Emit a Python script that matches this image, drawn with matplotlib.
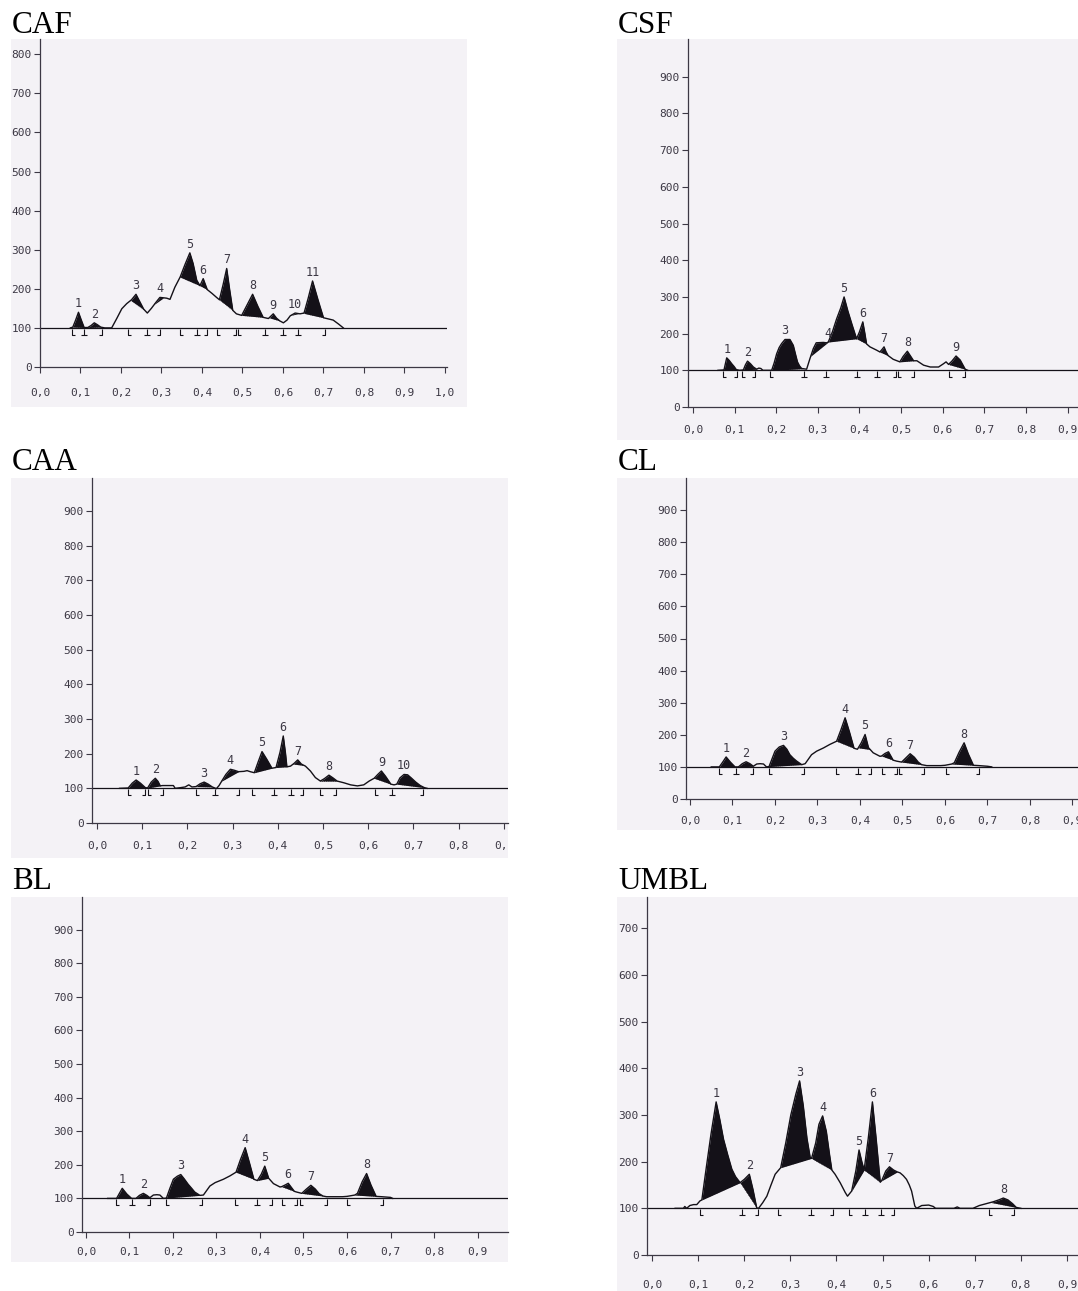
import numpy as np
import matplotlib
matplotlib.use("Agg")
import matplotlib.pyplot as plt
from matplotlib.patches import Rectangle
from matplotlib.path import Path
from matplotlib.markers import MarkerStyle

W, H = 1078, 1291

# ---- CAF ----
caf_x = [0.075, 0.081, 0.088, 0.095, 0.102, 0.109, 0.118, 0.126, 0.134, 0.142, 0.150, 0.160, 0.177,
         0.190, 0.202, 0.214, 0.226, 0.237, 0.246, 0.256, 0.265, 0.275, 0.286, 0.296, 0.305, 0.313,
         0.321, 0.333, 0.346, 0.358, 0.370, 0.378, 0.387, 0.395, 0.403, 0.413, 0.425, 0.436, 0.443,
         0.452, 0.461, 0.468, 0.476, 0.485, 0.498, 0.512, 0.525, 0.538, 0.551, 0.564, 0.570, 0.576,
         0.584, 0.592, 0.601, 0.610, 0.618, 0.630, 0.642, 0.652, 0.662, 0.673, 0.687, 0.700, 0.708,
         0.724, 0.737, 0.749]
caf_y = [100, 102, 120, 140, 120, 101, 101, 106, 113, 108, 102, 100, 100,
         125, 149, 162, 172, 186, 168, 148, 138, 150, 165, 178, 177, 176,
         173, 204, 230, 262, 292, 265, 222, 208, 226, 198, 188, 178, 172,
         210, 252, 200, 145, 136, 132, 160, 186, 155, 127, 124, 130, 136,
         125, 118, 113, 120, 131, 138, 136, 138, 175, 220, 170, 126, 124,
         120, 110, 100]
caf_p0 = [0.081, 0.118, 0.224, 0.283, 0.346, 0.395, 0.443, 0.498, 0.566, 0.620, 0.650]
caf_p1 = [0.109, 0.150, 0.258, 0.305, 0.395, 0.413, 0.476, 0.551, 0.592, 0.638, 0.700]
caf_mx = [0.078, 0.109, 0.152, 0.218, 0.265, 0.296, 0.346, 0.387, 0.412, 0.436, 0.485, 0.490,
          0.555, 0.601, 0.638, 0.704]
caf_mt = "LIJLIJLIJLJLIIIJ"

# ---- CSF ----
csf_x = [0.060, 0.0745, 0.081, 0.087, 0.093, 0.099, 0.104, 0.112, 0.121, 0.126, 0.131, 0.138, 0.145,
         0.153, 0.158, 0.163, 0.168, 0.189, 0.195, 0.201, 0.207, 0.213, 0.221, 0.233, 0.241, 0.246,
         0.251, 0.256, 0.261, 0.273, 0.281, 0.289, 0.296, 0.313, 0.321, 0.325, 0.335, 0.345, 0.355,
         0.363, 0.372, 0.382, 0.393, 0.400, 0.408, 0.413, 0.417, 0.425, 0.441, 0.449, 0.455, 0.459,
         0.464, 0.469, 0.481, 0.497, 0.505, 0.515, 0.522, 0.530, 0.538, 0.554, 0.570, 0.590, 0.602,
         0.608, 0.614, 0.622, 0.632, 0.642, 0.654, 0.660]
csf_y = [100, 101, 134, 127, 118, 110, 102, 100, 101, 115, 125, 118, 109,
         103, 106, 105, 100, 100, 120, 145, 162, 173, 184, 184, 168, 145,
         123, 112, 105, 103, 132, 159, 175, 176, 175, 177, 205, 240, 270,
         300, 262, 225, 186, 205, 232, 200, 172, 164, 155, 150, 158, 164,
         150, 140, 130, 123, 138, 152, 140, 126, 126, 114, 109, 109, 118,
         123, 116, 125, 139, 128, 103, 100]
csf_p0 = [0.0745, 0.121, 0.189, 0.283, 0.325, 0.393, 0.449, 0.497, 0.614]
csf_p1 = [0.104, 0.153, 0.265, 0.325, 0.393, 0.417, 0.469, 0.530, 0.654]
csf_mx = [0.073, 0.106, 0.118, 0.149, 0.185, 0.266, 0.320, 0.394, 0.443, 0.488, 0.493, 0.530,
          0.615, 0.654]
csf_mt = "LJLJLIIIIJLJLJ"

# ---- CAA ----
caa_x = [0.050, 0.069, 0.078, 0.0865, 0.096, 0.107, 0.112, 0.120, 0.129, 0.135, 0.140, 0.145, 0.169,
         0.173, 0.185, 0.195, 0.203, 0.210, 0.219, 0.228, 0.237, 0.246, 0.255, 0.264, 0.270, 0.276,
         0.285, 0.295, 0.304, 0.313, 0.325, 0.332, 0.339, 0.348, 0.357, 0.365, 0.375, 0.387, 0.396,
         0.405, 0.412, 0.417, 0.420, 0.428, 0.436, 0.444, 0.452, 0.461, 0.472, 0.483, 0.494, 0.503,
         0.513, 0.522, 0.531, 0.546, 0.561, 0.576, 0.590, 0.602, 0.613, 0.621, 0.629, 0.638, 0.650,
         0.657, 0.663, 0.670, 0.679, 0.687, 0.695, 0.705, 0.715, 0.724, 0.730]
caa_y = [100, 101, 115, 124, 115, 102, 101, 118, 129, 120, 107, 108, 108,
         100, 102, 104, 110, 104, 105, 113, 118, 112, 104, 99, 108, 121,
         140, 155, 152, 148, 149, 151, 148, 145, 178, 206, 185, 158, 160,
         205, 251, 200, 162, 164, 172, 182, 170, 164, 150, 131, 121, 128,
         138, 130, 121, 116, 110, 107, 110, 121, 129, 140, 150, 135, 112,
         110, 112, 130, 140, 139, 130, 118, 108, 102, 100]
caa_p0 = [0.069, 0.112, 0.219, 0.276, 0.348, 0.396, 0.434, 0.494, 0.613, 0.663]
caa_p1 = [0.107, 0.140, 0.255, 0.313, 0.387, 0.420, 0.458, 0.531, 0.650, 0.724]
caa_mx = [0.069, 0.107, 0.112, 0.147, 0.218, 0.261, 0.315, 0.343, 0.392, 0.428, 0.455, 0.493,
          0.529, 0.615, 0.653, 0.721]
caa_mt = "LJLJLIJLIIJLJLIJ"

# ---- CL ----
cl_x = [0.050, 0.069, 0.077, 0.085, 0.095, 0.106, 0.114, 0.123, 0.132, 0.141, 0.149, 0.157, 0.165,
        0.173, 0.180, 0.186, 0.193, 0.200, 0.210, 0.220, 0.228, 0.235, 0.243, 0.251, 0.263, 0.271,
        0.286, 0.298, 0.314, 0.329, 0.345, 0.355, 0.365, 0.375, 0.386, 0.394, 0.403, 0.412, 0.420,
        0.431, 0.447, 0.451, 0.459, 0.467, 0.473, 0.478, 0.486, 0.498, 0.508, 0.518, 0.528, 0.537,
        0.545, 0.557, 0.590, 0.600, 0.616, 0.622, 0.633, 0.645, 0.655, 0.667, 0.680, 0.700, 0.710]
cl_y = [100, 100, 115, 131, 115, 100, 100, 110, 116, 110, 102, 109, 110,
        109, 100, 101, 125, 149, 162, 167, 155, 138, 127, 118, 107, 110,
        138, 149, 159, 170, 180, 215, 253, 210, 158, 155, 175, 201, 160,
        144, 133, 134, 142, 147, 133, 121, 118, 115, 128, 141, 130, 115,
        107, 104, 104, 105, 109, 113, 145, 175, 140, 105, 104, 102, 100]
cl_p0 = [0.069, 0.114, 0.186, 0.345, 0.396, 0.451, 0.498, 0.616]
cl_p1 = [0.106, 0.149, 0.263, 0.386, 0.424, 0.478, 0.545, 0.667]
cl_mx = [0.068, 0.108, 0.148, 0.186, 0.268, 0.344, 0.395, 0.427, 0.451, 0.486, 0.492, 0.551,
         0.602, 0.681]
cl_mt = "LIJLJLIJLJLJLJ"

# ---- BL ----
bl_x = [0.050, 0.0705, 0.077, 0.0835, 0.094, 0.105, 0.115, 0.123, 0.132, 0.140, 0.147, 0.155, 0.163,
        0.170, 0.178, 0.185, 0.193, 0.201, 0.210, 0.218, 0.226, 0.235, 0.243, 0.250, 0.262, 0.270,
        0.285, 0.297, 0.316, 0.331, 0.345, 0.355, 0.366, 0.376, 0.386, 0.394, 0.403, 0.411, 0.420,
        0.431, 0.446, 0.450, 0.458, 0.465, 0.472, 0.479, 0.484, 0.496, 0.506, 0.517, 0.527, 0.536,
        0.545, 0.553, 0.590, 0.600, 0.618, 0.624, 0.635, 0.645, 0.655, 0.667, 0.680, 0.700, 0.705]
bl_y = [100, 100, 115, 130, 113, 100, 100, 109, 115, 109, 102, 110, 111,
        110, 100, 101, 130, 157, 166, 171, 158, 142, 130, 119, 109, 110,
        137, 147, 157, 167, 178, 215, 251, 205, 157, 153, 172, 196, 160,
        144, 134, 135, 140, 145, 133, 121, 119, 115, 127, 139, 128, 114,
        107, 105, 105, 106, 110, 115, 150, 174, 140, 106, 105, 103, 100]
bl_p0 = [0.0705, 0.115, 0.185, 0.345, 0.394, 0.450, 0.496, 0.618]
bl_p1 = [0.105, 0.147, 0.262, 0.386, 0.420, 0.479, 0.545, 0.667]
bl_mx = [0.069, 0.106, 0.147, 0.185, 0.266, 0.342, 0.394, 0.427, 0.450, 0.486, 0.491, 0.553,
         0.599, 0.682]
bl_mt = "LIJLJLIJLJLJLJ"

# ---- UMBL ----
um_x = [0.050, 0.068, 0.071, 0.075, 0.082, 0.090, 0.097, 0.104, 0.108, 0.118, 0.128, 0.139, 0.147,
        0.155, 0.164, 0.173, 0.181, 0.191, 0.200, 0.211, 0.219, 0.227, 0.231, 0.240, 0.249, 0.258,
        0.267, 0.279, 0.290, 0.301, 0.312, 0.320, 0.328, 0.336, 0.343, 0.346, 0.355, 0.362, 0.370,
        0.378, 0.385, 0.390, 0.397, 0.408, 0.419, 0.424, 0.433, 0.442, 0.449, 0.455, 0.460, 0.469,
        0.478, 0.486, 0.495, 0.498, 0.507, 0.515, 0.524, 0.532, 0.538, 0.545, 0.552, 0.558, 0.563,
        0.570, 0.574, 0.585, 0.600, 0.610, 0.615, 0.655, 0.662, 0.668, 0.696, 0.710, 0.725, 0.740,
        0.752, 0.762, 0.772, 0.782, 0.790, 0.800]
um_y = [100, 100, 104, 100, 106, 108, 108, 116, 118, 190, 260, 328, 290,
        248, 215, 184, 168, 155, 162, 173, 140, 101, 100, 112, 126, 150,
        173, 187, 240, 300, 345, 373, 320, 250, 209, 207, 240, 280, 298,
        265, 215, 182, 173, 155, 134, 126, 137, 180, 225, 200, 182, 250,
        328, 250, 156, 159, 180, 189, 182, 178, 176, 170, 162, 150, 137,
        105, 100, 106, 107, 104, 100, 100, 103, 100, 100, 106, 110, 114,
        118, 122, 118, 110, 102, 100]
um_p0 = [0.108, 0.191, 0.279, 0.346, 0.433, 0.460, 0.498, 0.735]
um_p1 = [0.191, 0.227, 0.346, 0.390, 0.460, 0.495, 0.532, 0.790]
um_mx = [0.103, 0.195, 0.229, 0.274, 0.345, 0.393, 0.428, 0.461, 0.496, 0.524, 0.731, 0.785]
um_mt = "LIJLIJLIIJLJ"

ink = "#141118"
axis_col = "#3c3844"
paper = "#f4f2f6"
mono = "DejaVu Sans Mono"

mark_paths = {
    "L": Path([(0, -0.15), (0, -1), (0.45, -1)], [Path.MOVETO, Path.LINETO, Path.LINETO]),
    "J": Path([(0, -0.15), (0, -1), (-0.45, -1)], [Path.MOVETO, Path.LINETO, Path.LINETO]),
    "I": Path([(0, -0.15), (0, -1), (-0.45, -1), (0.45, -1)],
              [Path.MOVETO, Path.LINETO, Path.MOVETO, Path.LINETO]),
}

fig = plt.figure(figsize=(W / 100, H / 100), dpi=100)
fig.patch.set_facecolor("white")


def draw_panel(title, title_px, gray_px, box_px, xlim, ylim, yticks, xticks, xpad,
               cx, cy, p0, p1, mx, mt):
    gx0, gy0, gx1, gy1 = gray_px
    bg = Rectangle((gx0 / W, 1 - gy1 / H), (gx1 - gx0) / W, (gy1 - gy0) / H,
                   transform=fig.transFigure, facecolor=paper, edgecolor="none", zorder=0)
    fig.add_artist(bg)
    fig.text(title_px[0] / W, 1 - title_px[1] / H, title, fontsize=22.5,
             family="Liberation Serif", ha="left", va="baseline", color="black")

    l, t, r, b = box_px
    ax = fig.add_axes([l / W, 1 - b / H, (r - l) / W, (b - t) / H])
    ax.set_facecolor("none")
    ax.set_xlim(*xlim)
    ax.set_ylim(*ylim)
    for s in ("top", "right"):
        ax.spines[s].set_visible(False)
    for s in ("left", "bottom"):
        ax.spines[s].set_color(axis_col)
        ax.spines[s].set_linewidth(0.9)
    ax.set_yticks(yticks)
    ax.set_yticklabels([str(v) for v in yticks])
    ax.set_xticks(xticks)
    ax.set_xticklabels([f"{v:.1f}".replace(".", ",") for v in xticks])
    ax.tick_params(axis="y", length=4, width=0.8, color=axis_col, pad=2,
                   labelsize=8, labelcolor=axis_col)
    ax.tick_params(axis="x", length=4, width=0.8, color=axis_col, pad=xpad,
                   labelsize=8, labelcolor=axis_col)
    for lab in ax.get_xticklabels() + ax.get_yticklabels():
        lab.set_family(mono)
    for lab in ax.get_xticklabels():
        lab.set_clip_path(bg)

    # baseline
    ax.axhline(100, color=ink, lw=0.9, zorder=2)

    cx = np.asarray(cx, float)
    cy = np.asarray(cy, float)
    ax.plot(cx, cy, color=ink, lw=1.0, zorder=3)

    for n, (a, bnd) in enumerate(zip(p0, p1), start=1):
        xs = np.array([a] + [x for x in cx if a < x < bnd] + [bnd])
        ys = np.interp(xs, cx, cy)
        base = ys[0] + (ys[-1] - ys[0]) * (xs - a) / (bnd - a)
        ax.fill_between(xs, base, ys, where=ys >= base, interpolate=True,
                        color=ink, lw=0, zorder=3)
        ax.plot([xs[0], xs[-1]], [base[0], base[-1]], color=ink, lw=0.5, ls=":", zorder=3)
        k = int(np.argmax(ys))
        ax.annotate(str(n), (xs[k], ys[k]), xytext=(0, 1.5), textcoords="offset points",
                    ha="center", va="bottom", fontsize=8.5, family=mono, color=axis_col)

    for key in "LJI":
        xs = [x for x, t in zip(mx, mt) if t == key]
        if xs:
            ax.plot(xs, [100] * len(xs), ls="none", marker=MarkerStyle(mark_paths[key]),
                    ms=10, mfc="none", mec=ink, mew=0.8, zorder=3, clip_on=False)
    return ax


draw_panel("CAF", (12, 33), (11, 39, 467, 407), (40, 39, 447, 367),
           (0, 1.005), (0, 839), list(range(0, 900, 100)), [i / 10 for i in range(11)], 11,
           caf_x, caf_y, caf_p0, caf_p1, caf_mx, caf_mt)
draw_panel("CSF", (618, 33), (617, 39, 1078, 440), (688, 39, 1078, 407),
           (-0.012, 0.925), (0, 1003), list(range(0, 1000, 100)), [i / 10 for i in range(10)], 9,
           csf_x, csf_y, csf_p0, csf_p1, csf_mx, csf_mt)
draw_panel("CAA", (12, 470), (11, 478, 508, 858), (92, 478, 508, 823),
           (-0.011, 0.909), (0, 995), list(range(0, 1000, 100)), [i / 10 for i in range(10)], 9,
           caa_x, caa_y, caa_p0, caa_p1, caa_mx, caa_mt)
draw_panel("CL", (618, 470), (617, 478, 1078, 830), (686, 478, 1078, 799),
           (-0.0094, 0.913), (0, 1000), list(range(0, 1000, 100)), [i / 10 for i in range(10)], 8,
           cl_x, cl_y, cl_p0, cl_p1, cl_mx, cl_mt)
draw_panel("BL", (12, 889), (11, 897, 508, 1262), (82, 897, 508, 1232),
           (-0.009, 0.970), (0, 997), list(range(0, 1000, 100)), [i / 10 for i in range(10)], 7,
           bl_x, bl_y, bl_p0, bl_p1, bl_mx, bl_mt)
draw_panel("UMBL", (618, 889), (617, 897, 1078, 1291), (647, 897, 1078, 1255),
           (-0.011, 0.924), (0, 767), list(range(0, 800, 100)), [i / 10 for i in range(10)], 14,
           um_x, um_y, um_p0, um_p1, um_mx, um_mt)

fig.savefig("out.png", dpi=100, facecolor="white")
